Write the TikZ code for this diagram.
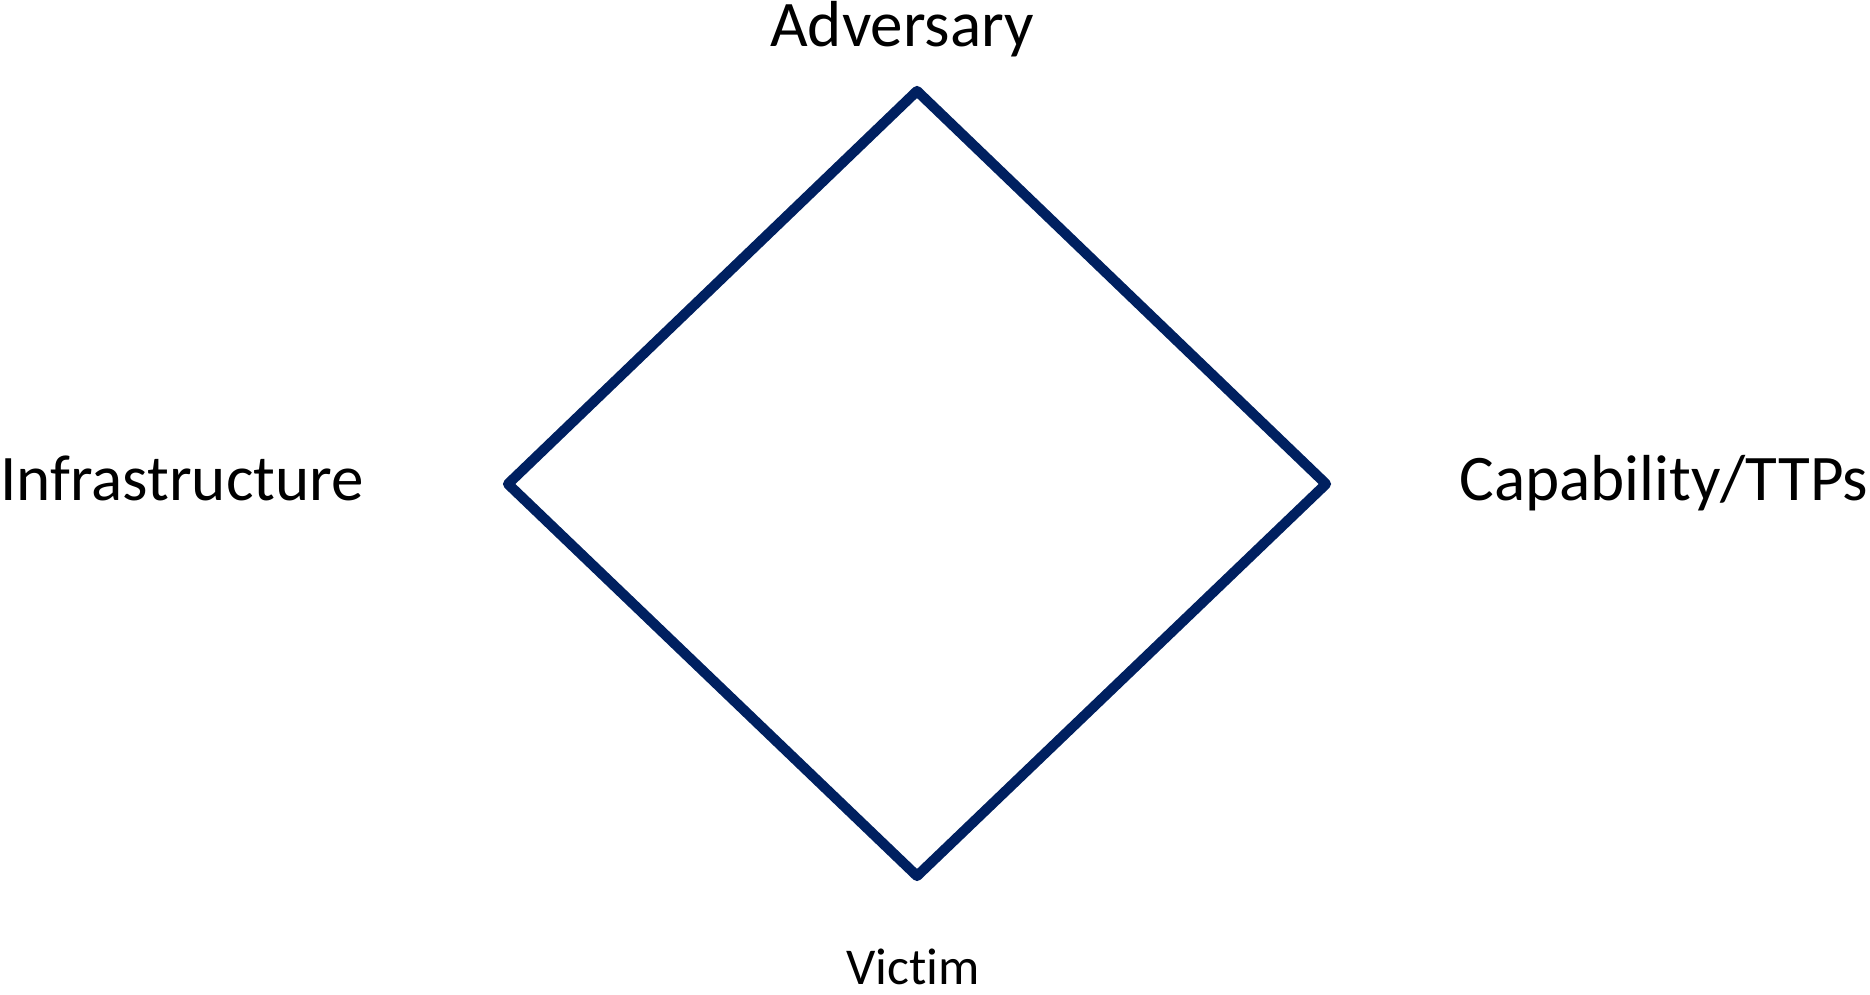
\documentclass[tikz,border=0pt]{standalone}
\usepackage{fontspec}
\setmainfont[Ligatures={NoCommon,NoContextual}]{Carlito}
\usetikzlibrary{calc}
\definecolor{DNavy}{HTML}{002060}
\tikzset{
    corner label/.style={font=\fontsize{18.5}{22}\selectfont, anchor=base, inner sep=0pt},
    diamond edge/.style={DNavy, line width=2.9pt, line join=round, line cap=round}
}

\begin{document}
\begin{tikzpicture}[x=0.01cm, y=-0.01cm]

    \useasboundingbox (0,0) rectangle (1870,995);

    \coordinate (top) at (917,91);
    \coordinate (left) at (508,484);
    \coordinate (right) at (1326,484);
    \coordinate (bottom) at (917,876);

    \draw[diamond edge] (top) -- (right) -- (bottom) -- (left) -- cycle;

    \node[corner label] (adversary) at (902,47) {Adversary};
    \node[corner label] (infra) at (182,501) {Infrastructure};
    \node[corner label] (capability) at (1664,501) {Capability/TTPs};
    \node[corner label, font=\fontsize{14.7}{18}\selectfont] (victim) at (913,984) {Victim};
\end{tikzpicture}
\end{document}
